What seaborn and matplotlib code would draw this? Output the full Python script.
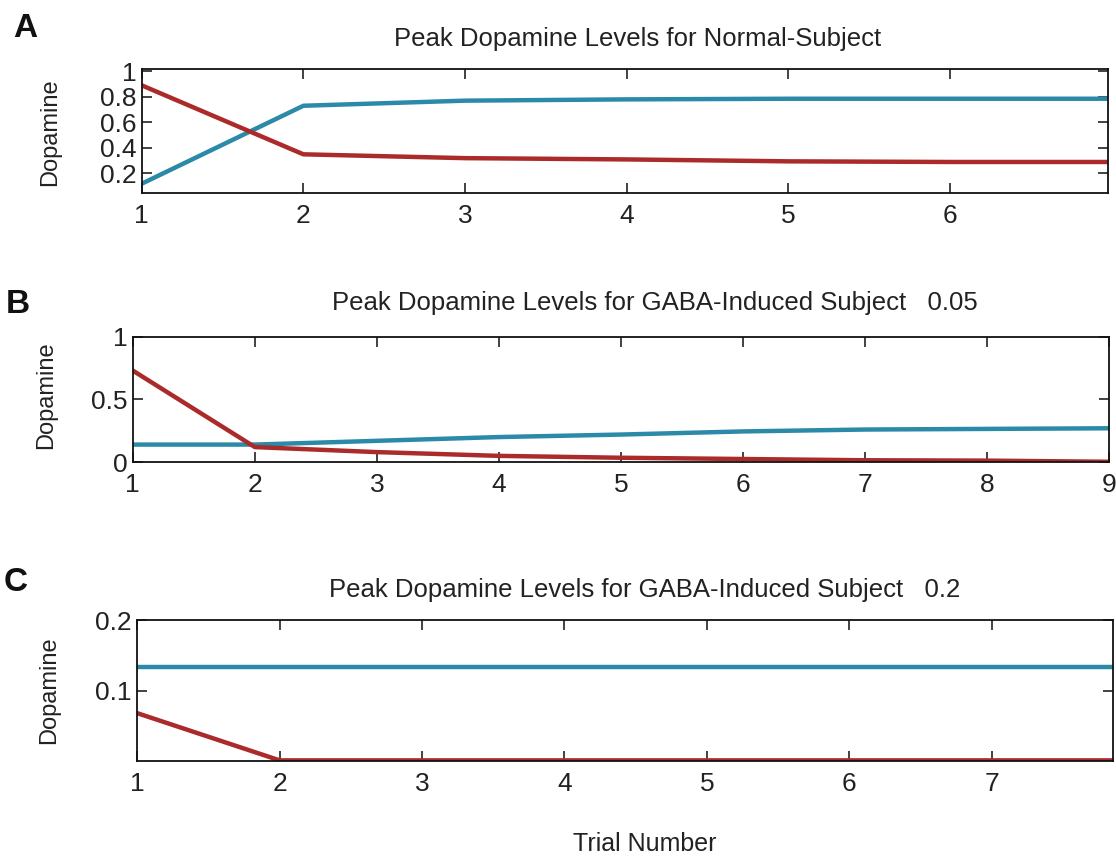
import matplotlib
matplotlib.use("Agg")
import matplotlib.pyplot as plt
import seaborn as sns
import pandas as pd

# ---- data ----
trials_a = [1, 2, 3, 4, 5, 6, 7]
blue_a = [0.12, 0.73, 0.77, 0.78, 0.785, 0.785, 0.785]
red_a = [0.89, 0.35, 0.32, 0.31, 0.295, 0.29, 0.29]

trials_b = [1, 2, 3, 4, 5, 6, 7, 8, 9]
blue_b = [0.14, 0.14, 0.17, 0.20, 0.22, 0.245, 0.26, 0.265, 0.27]
red_b = [0.73, 0.12, 0.08, 0.05, 0.035, 0.025, 0.015, 0.012, 0.003]

trials_c = [1, 2, 3, 4, 5, 6, 7, 8]
blue_c = [0.133, 0.133, 0.133, 0.133, 0.133, 0.133, 0.133, 0.133]
red_c = [0.068, 0.001, 0.001, 0.001, 0.001, 0.001, 0.001, 0.001]

titles = ["Peak Dopamine Levels for Normal-Subject",
          "Peak Dopamine Levels for GABA-Induced Subject   0.05",
          "Peak Dopamine Levels for GABA-Induced Subject   0.2"]
letters = ["A", "B", "C"]
xlims = [(1, 6.98), (1, 9), (1, 7.85)]
ylims = [(0.045, 1.02), (0, 1), (0, 0.2)]
yticks = [[0.2, 0.4, 0.6, 0.8, 1.0], [0, 0.5, 1], [0.1, 0.2]]
yticklabels = [["0.2", "0.4", "0.6", "0.8", "1"], ["0", "0.5", "1"], ["0.1", "0.2"]]
xticks = [[1, 2, 3, 4, 5, 6], [1, 2, 3, 4, 5, 6, 7, 8, 9], [1, 2, 3, 4, 5, 6, 7]]

BLUE = "#2b8aa8"
RED = "#ab2a2a"

sns.set_theme(style="ticks")
plt.rcParams["font.family"] = ["Liberation Sans", "DejaVu Sans"]

fig = plt.figure(figsize=(11.16, 8.59), dpi=100)
fig.patch.set_facecolor("white")

positions = [
    [0.127, 0.775, 0.866, 0.145],
    [0.119, 0.462, 0.875, 0.146],
    [0.123, 0.114, 0.874, 0.164],
]
title_pos = [(0.571, 0.955), (0.587, 0.647), (0.578, 0.313)]
letter_pos = [(0.0224, 0.967), (0.0161, 0.646), (0.0143, 0.322)]
ylabel_pos = [(0.0448, 0.846), (0.0412, 0.540), (0.0439, 0.196)]

datasets = [(trials_a, blue_a, red_a), (trials_b, blue_b, red_b), (trials_c, blue_c, red_c)]
TXT = "#222222"

for i, (tr, b, r) in enumerate(datasets):
    ax = fig.add_axes(positions[i])
    df = pd.DataFrame({"Trial": tr + tr,
                       "Dopamine": b + r,
                       "Series": ["blue"] * len(tr) + ["red"] * len(tr)})
    sns.lineplot(data=df, x="Trial", y="Dopamine", hue="Series",
                 palette={"blue": BLUE, "red": RED}, linewidth=3.2,
                 legend=False, ax=ax)
    ax.set_xlim(*xlims[i])
    ax.set_ylim(*ylims[i])
    ax.set_xticks(xticks[i])
    ax.set_xticklabels([str(t) for t in xticks[i]])
    ax.set_yticks(yticks[i])
    ax.set_yticklabels(yticklabels[i])
    ax.tick_params(direction="in", top=True, right=True, length=7, width=1.2,
                   labelsize=19, colors=TXT)
    ax.tick_params(axis="x", pad=8)
    ax.tick_params(axis="y", pad=4)
    for s in ax.spines.values():
        s.set_visible(True)
        s.set_linewidth(1.3)
        s.set_color("#111111")
    ax.set_xlabel("")
    ax.set_ylabel("")
    fig.text(ylabel_pos[i][0], ylabel_pos[i][1], "Dopamine",
             rotation=90, ha="center", va="center", fontsize=17, color=TXT)
    fig.text(title_pos[i][0], title_pos[i][1], titles[i], ha="center", va="center",
             fontsize=18.5, color=TXT)
    fig.text(letter_pos[i][0], letter_pos[i][1], letters[i], ha="center", va="center",
             fontsize=24, fontweight="bold", color="#111111")

fig.text(0.578, 0.018, "Trial Number", ha="center", va="center", fontsize=18, color=TXT)

fig.savefig("out.png", dpi=100, facecolor="white")
